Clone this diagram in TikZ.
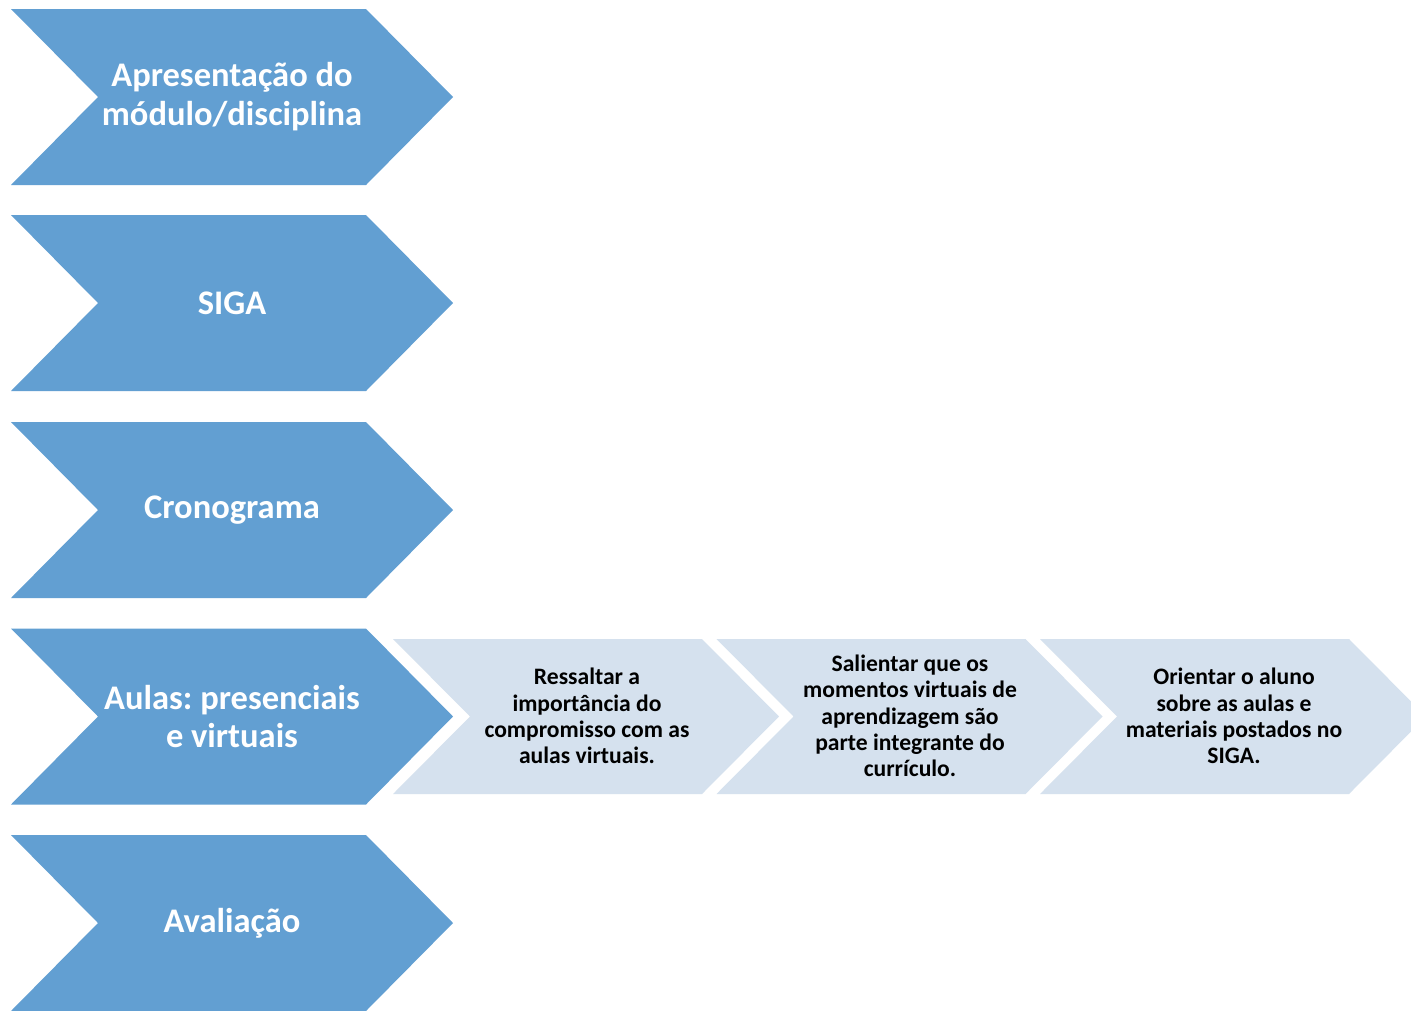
\documentclass[tikz,border=0pt]{standalone}
\usepackage{fontspec}
\setmainfont{Carlito}
\frenchspacing
\usepackage{tikz}
\usetikzlibrary{positioning}
\definecolor{chevblue}{HTML}{629FD2}
\definecolor{chevlight}{HTML}{D5E1EE}
\tikzset{
  bigchev/.style={fill=chevblue},
  smallchev/.style={fill=chevlight},
  bigtext/.style={text=white,align=center,inner sep=0pt,font=\fontsize{34.5}{38.5}\selectfont\bfseries},
  smalltext/.style={text=black,align=center,inner sep=0pt,font=\fontsize{23.6}{26.3}\selectfont\bfseries}
}

\begin{document}
\begin{tikzpicture}[x=1pt,y=-1pt]
\clip (0,0) rectangle (1411,1010);
\fill[white] (0,0) rectangle (1411,1010);
% left column
\fill[bigchev] (11,9) -- (366,9) -- (453,97) -- (366,185) -- (11,185) -- (98,97) -- cycle;
\node[bigtext] (intro) at (232,96.5) {Apresentação do\\módulo/disciplina};
\fill[bigchev] (11,215) -- (366,215) -- (453,303) -- (366,391) -- (11,391) -- (98,303) -- cycle;
\node[bigtext] (siga) at (232,303) {SIGA};
\fill[bigchev] (11,422) -- (366,422) -- (453,510) -- (366,598) -- (11,598) -- (98,510) -- cycle;
\node[bigtext] (crono) at (232,510) {Cronograma};
\fill[bigchev] (11,628.5) -- (366,628.5) -- (453,716.5) -- (366,804.5) -- (11,804.5) -- (98,716.5) -- cycle;
\node[bigtext] (aulas) at (232,716.5) {Aulas: presenciais\\e virtuais};
\fill[bigchev] (11,835) -- (366,835) -- (453,923) -- (366,1011) -- (11,1011) -- (98,923) -- cycle;
\node[bigtext] (aval) at (232,923) {Avaliação};
% steps of the fourth row
\fill[smallchev] (393,639) -- (702,639) -- (779,716.5) -- (702,794) -- (393,794) -- (470,716.5) -- cycle;
\node[smalltext] (ressaltar) at (587,716) {Ressaltar a\\importância do\\compromisso com as\\aulas virtuais.};
\fill[smallchev] (716.5,639) -- (1025.5,639) -- (1102.5,716.5) -- (1025.5,794) -- (716.5,794) -- (793.5,716.5) -- cycle;
\node[smalltext] (salientar) at (910,716) {Salientar que os\\momentos virtuais de\\aprendizagem são\\parte integrante do\\currículo.};
\fill[smallchev] (1040,639) -- (1349,639) -- (1426,716.5) -- (1349,794) -- (1040,794) -- (1117,716.5) -- cycle;
\node[smalltext] (orientar) at (1234,716) {Orientar o aluno\\sobre as aulas e\\materiais postados no\\SIGA.};
\end{tikzpicture}
\end{document}
